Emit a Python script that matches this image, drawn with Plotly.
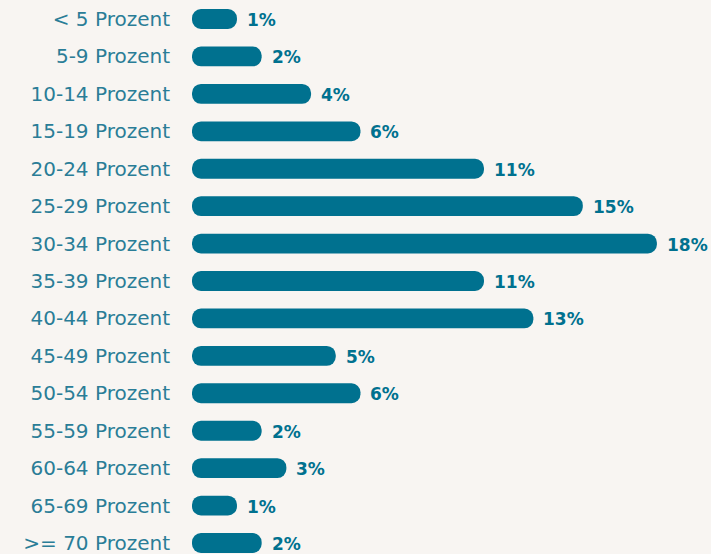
import plotly.graph_objects as go

categories = ["< 5 Prozent", "5-9 Prozent", "10-14 Prozent", "15-19 Prozent",
              "20-24 Prozent", "25-29 Prozent", "30-34 Prozent", "35-39 Prozent",
              "40-44 Prozent", "45-49 Prozent", "50-54 Prozent", "55-59 Prozent",
              "60-64 Prozent", "65-69 Prozent", ">= 70 Prozent"]
values = [1, 2, 4, 6, 11, 15, 18, 11, 13, 5, 6, 2, 3, 1, 2]
value_labels = [f"{v}%" for v in values]

BAR = "#00718f"
LABEL = "#2a7d97"
BG = "#f8f5f2"
FONT = "DejaVu Sans"

# round end caps extend slightly beyond the value on both sides
cap = 0.41

fig = go.Figure()
fig.add_trace(go.Bar(
    y=categories,
    x=[v + 2 * cap for v in values],
    base=[-cap] * len(values),
    orientation="h",
    marker=dict(color=BAR, line=dict(width=0), cornerradius=10),
    hoverinfo="skip",
))

for c, v, t in zip(categories, values, value_labels):
    fig.add_annotation(
        x=v, y=c, text=f"<b>{t}</b>", showarrow=False,
        xanchor="left", yanchor="middle", xshift=18, yshift=-1,
        font=dict(family=FONT, size=17, color=BAR),
    )

fig.update_layout(
    width=711, height=554,
    margin=dict(l=192, r=0, t=0, b=0),
    paper_bgcolor=BG, plot_bgcolor=BG,
    bargap=0.47,
    showlegend=False,
    xaxis=dict(range=[-cap, 20.6], visible=False, fixedrange=True),
    yaxis=dict(
        type="category",
        range=[14.294, -0.508],
        showgrid=False, zeroline=False, showline=False,
        ticks="", ticklabelstandoff=21,
        tickfont=dict(family=FONT, size=20, color=LABEL),
    ),
)

fig.write_html("out.html")
